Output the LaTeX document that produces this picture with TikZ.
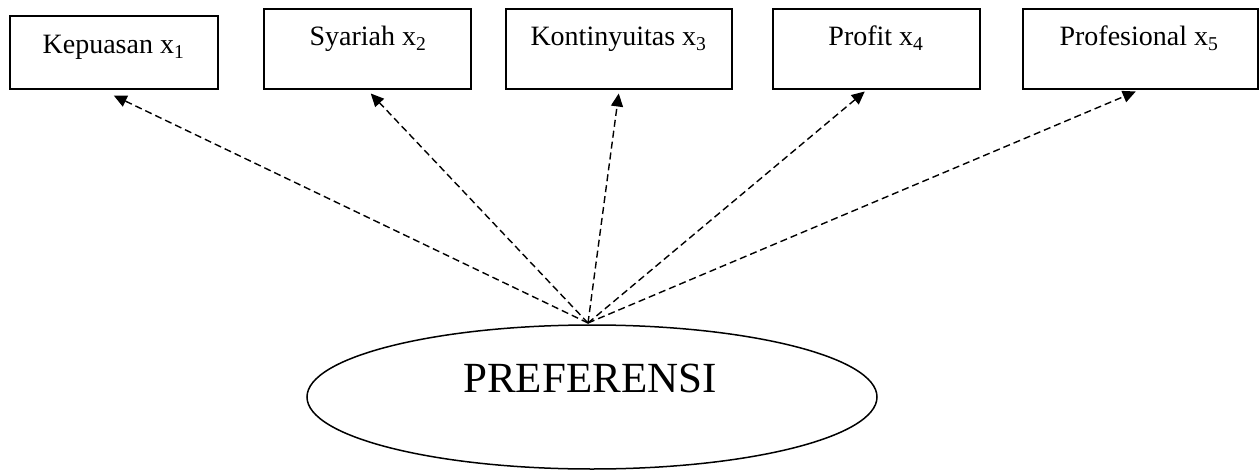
\documentclass[tikz,border=0pt]{standalone}
\usepackage{fontspec}
\setmainfont{Liberation Serif}
\usetikzlibrary{shapes.geometric,arrows.meta,calc}
\begin{document}
\begin{tikzpicture}[x=0.5pt,y=-0.5pt,
  factor/.style={draw,line width=0.75pt,inner sep=0pt,anchor=north west,minimum height=40pt},
  factortext/.style={anchor=base,inner sep=0pt,font=\fontsize{14}{16}\selectfont},
  latent/.style={draw,ellipse,line width=0.75pt,inner sep=0pt,minimum width=285pt,minimum height=72pt},
  link/.style={-{Triangle[length=6.5pt,width=6pt]},dash pattern=on 3.5pt off 2pt,line width=0.7pt}]
\useasboundingbox (0,0) rectangle (1260,471);

% indicator boxes
\node[factor,minimum width=104pt,minimum height=36.5pt] (b1) at (9,15) {};
\node[factor,minimum width=103.5pt] (b2) at (263,8) {};
\node[factor,minimum width=113pt] (b3) at (505,8) {};
\node[factor,minimum width=103.5pt] (b4) at (772,8) {};
\node[factor,minimum width=117.5pt] (b5) at (1022,8) {};

\node[factortext] (t1) at ($(b1.north)+(0,39)$) {Kepuasan x\textsubscript{1}};
\node[factortext] (t2) at ($(b2.north)+(1,38)$) {Syariah x\textsubscript{2}};
\node[factortext] (t3) at ($(b3.north)+(0,38)$) {Kontinyuitas x\textsubscript{3}};
\node[factortext] (t4) at ($(b4.north)+(0,38)$) {Profit x\textsubscript{4}};
\node[factortext] (t5) at ($(b5.north)+(-1,38)$) {Profesional x\textsubscript{5}};

% latent construct
\node[latent] (pref) at (592,397) {};
\node[anchor=base,inner sep=0pt,font=\fontsize{21.5}{24}\selectfont] (preftext) at (590,392) {PREFERENSI};

% loadings
\coordinate (src) at (588,323);
\draw[link] (src) -- ($(b1.south)+(0,6)$);
\draw[link] (src) -- ($(b2.south)+(3.5,4)$);
\draw[link] (src) -- ($(b3.south)+(0,4)$);
\draw[link] (src) -- ($(b4.south)+(-11.5,2)$);
\draw[link] (src) -- ($(b5.south)+(-4.5,2)$);
\end{tikzpicture}
\end{document}
